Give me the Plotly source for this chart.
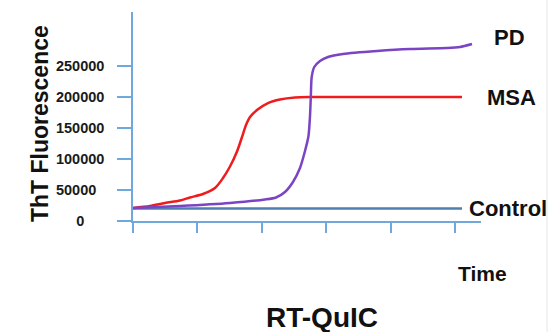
import plotly.graph_objects as go

# Data (time in arbitrary units, ThT fluorescence)
msa_t = [0, 0.264, 0.497, 0.730, 0.885, 1.087, 1.273, 1.398, 1.506, 1.615, 1.693, 1.755, 1.817, 1.925, 2.096, 2.283, 2.516, 2.748, 3.370, 4.146, 5.109]
msa_v = [20970, 24200, 29030, 33070, 37910, 43550, 53230, 69360, 87910, 112100, 135500, 154800, 167700, 179000, 190300, 196000, 199200, 200000, 200000, 200000, 200000]

pd_t = [0, 0.730, 1.506, 2.050, 2.220, 2.360, 2.484, 2.593, 2.671, 2.725, 2.748, 2.761, 2.775, 2.815, 2.904, 3.028, 3.261, 3.789, 4.301, 4.876, 5.078, 5.264]
pd_v = [20970, 24200, 29030, 34680, 37910, 46780, 62910, 85490, 112900, 137100, 167800, 200000, 232300, 248400, 258100, 264500, 269400, 274200, 277400, 279000, 280700, 285500]

ctrl_t = [0, 5.109]
ctrl_v = [20000, 20000]

y_ticks = [0, 50000, 100000, 150000, 200000, 250000]
y_ticktext = ["0" + "\u00a0" * 5, "50000\u00a0\u00a0", "100000", "150000", "200000", "250000"]
x_ticks = [0, 1, 2, 3, 4, 5]

FONT = "Liberation Sans, Arial, sans-serif"
AXIS_C = "#6fa8dc"

fig = go.Figure()
fig.add_trace(go.Scatter(x=ctrl_t, y=ctrl_v, mode="lines",
                         line=dict(color="#4f7fae", width=2.5), name="Control"))
fig.add_trace(go.Scatter(x=msa_t, y=msa_v, mode="lines",
                         line=dict(color="#ee1c1c", width=2.5, shape="spline", smoothing=0.8), name="MSA"))
fig.add_trace(go.Scatter(x=pd_t, y=pd_v, mode="lines",
                         line=dict(color="#7a44c4", width=2.5, shape="spline", smoothing=0.7), name="PD"))

fig.update_layout(
    width=556, height=332,
    margin=dict(l=133, r=75, t=12, b=111),
    paper_bgcolor="white", plot_bgcolor="white",
    showlegend=False,
    font=dict(family=FONT, color="#222222"),
    xaxis=dict(range=[0, 5.404], tickvals=x_ticks, ticktext=[""] * len(x_ticks),
               ticks="outside", ticklen=10, tickwidth=1.5, tickcolor=AXIS_C,
               showline=True, linecolor=AXIS_C, linewidth=1.5,
               showgrid=False, zeroline=False, fixedrange=True),
    yaxis=dict(range=[0, 337100], tickvals=y_ticks, ticktext=y_ticktext,
               ticks="outside", ticklen=14, tickwidth=1.5, tickcolor=AXIS_C,
               ticklabelstandoff=10,
               tickfont=dict(family=FONT, size=14.5, color="#1a1a1a", weight="bold"),
               showline=True, linecolor=AXIS_C, linewidth=1.5,
               showgrid=False, zeroline=False, fixedrange=True),
)

def ann(text, x, y, size, xanchor="center", angle=0):
    fig.add_annotation(text=f"<b>{text}</b>", xref="paper", yref="paper", x=x, y=y,
                       xanchor=xanchor, yanchor="middle", showarrow=False, textangle=angle,
                       font=dict(family=FONT, size=size, color="#111111"))

ann("ThT Fluorescence", -0.2672, 0.464, 23, angle=-90)
ann("PD", 1.0316, 0.880, 22, xanchor="left")
ann("MSA", 1.0115, 0.589, 22, xanchor="left")
ann("Control", 0.960, 0.062, 22, xanchor="left")
ann("Time", 1.003, -0.249, 21)
ann("RT-QuIC", 0.543, -0.464, 28)

fig.add_shape(type="line", xref="paper", yref="paper", x0=1.1897, x1=1.1897, y0=-0.53, y1=1.06,
              line=dict(color="#e6e6e6", width=1))

fig.write_html("out.html")
